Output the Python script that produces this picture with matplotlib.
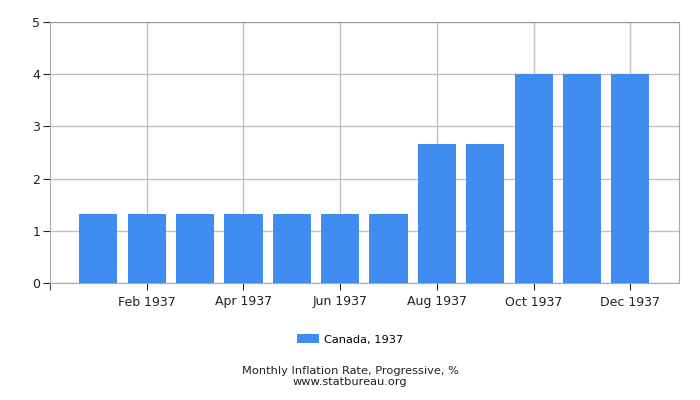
import matplotlib
matplotlib.use('Agg')
import matplotlib.pyplot as plt

months = ['Jan 1937', 'Feb 1937', 'Mar 1937', 'Apr 1937', 'May 1937', 'Jun 1937',
          'Jul 1937', 'Aug 1937', 'Sep 1937', 'Oct 1937', 'Nov 1937', 'Dec 1937']
rates = [1.33, 1.33, 1.33, 1.33, 1.33, 1.33, 1.33, 2.67, 2.67, 4.0, 4.0, 4.0]
series_label = 'Canada, 1937'
y_ticks = [0, 1, 2, 3, 4, 5]

fig = plt.figure(figsize=(7, 4), dpi=100)
ax = fig.add_axes([50 / 700, 117 / 400, 628.7 / 700, 261 / 400])

x = list(range(len(months)))
ax.bar(x, rates, width=0.79, color='#418cf0', zorder=3, label=series_label)

ax.set_xlim(-1, 12)
ax.set_ylim(0, 5)
ax.set_yticks(y_ticks)
ax.set_xticks(x[1::2])
ax.set_xticklabels(months[1::2])
# unlabelled tick at the left edge of the axis
ax.set_xticks([-1], minor=True)
ax.tick_params(axis='x', which='minor', length=5, colors='#222222')
ax.grid(True, color='#c0c0c0', linewidth=1, zorder=0)
for side in ['top', 'right', 'bottom', 'left']:
    ax.spines[side].set_color('#aaaaaa')
ax.spines['top'].set_color('#999999')
ax.tick_params(axis='both', labelsize=9, colors='#222222', length=5)
ax.tick_params(axis='x', pad=4)
ax.tick_params(axis='y', pad=2)

fig.legend(loc='center', bbox_to_anchor=(0.5, 1 - 339.5 / 400), frameon=False,
           fontsize=8.2, handlelength=2.0, handleheight=0.8, handletextpad=0.4)
fig.text(0.5, 1 - 370.5 / 400, 'Monthly Inflation Rate, Progressive, %', ha='center', va='center',
         fontsize=8.2, color='#222222')
fig.text(0.5, 1 - 382 / 400, 'www.statbureau.org', ha='center', va='center',
         fontsize=8.2, color='#222222')

fig.savefig('out.png', dpi=100)
